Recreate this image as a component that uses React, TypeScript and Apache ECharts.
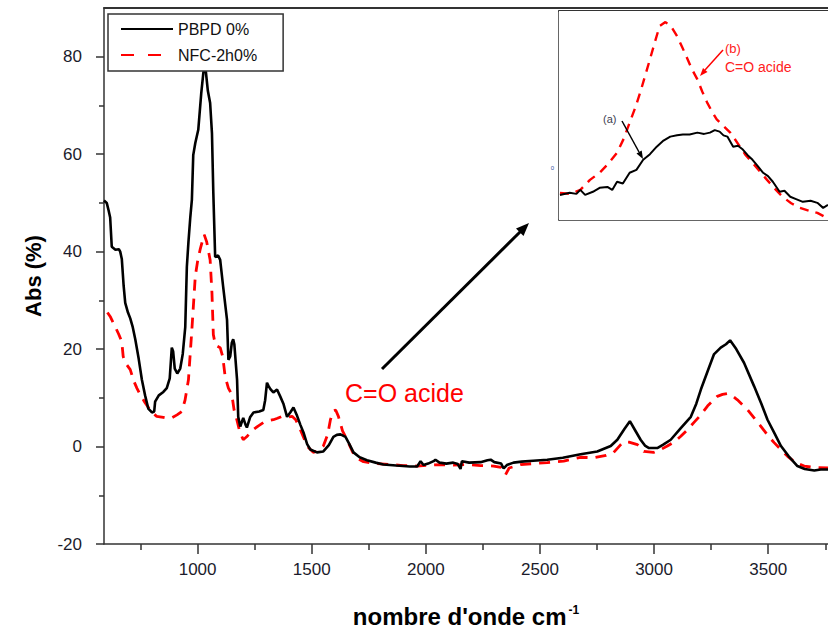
import React, { useEffect, useRef } from "react";
import * as echarts from "echarts";

// ---------- data ----------
const pbpdWavenumber = [590, 602, 610, 617, 624, 640, 655, 661, 668, 676, 683, 695, 705, 716, 727, 742, 756, 770, 784, 800, 810, 814, 830, 850, 865, 878, 887, 893, 900, 911, 924, 935, 946, 953, 960, 968, 975, 981, 990, 1003, 1016, 1025, 1030, 1035, 1045, 1055, 1063, 1069, 1077, 1090, 1099, 1112, 1129, 1135, 1143, 1150, 1156, 1161, 1173, 1178, 1187, 1200, 1210, 1216, 1230, 1245, 1270, 1288, 1296, 1304, 1310, 1319, 1332, 1348, 1362, 1376, 1392, 1406, 1420, 1436, 1450, 1464, 1480, 1494, 1523, 1551, 1575, 1595, 1610, 1626, 1648, 1665, 1683, 1710, 1742, 1780, 1814, 1870, 1930, 1962, 1977, 1990, 2010, 2034, 2042, 2060, 2090, 2120, 2140, 2152, 2158, 2190, 2240, 2270, 2284, 2300, 2330, 2341, 2355, 2384, 2420, 2470, 2532, 2600, 2678, 2751, 2810, 2839, 2870, 2894, 2915, 2941, 2960, 2978, 3014, 3040, 3073, 3117, 3161, 3185, 3205, 3235, 3262, 3292, 3315, 3333, 3360, 3394, 3438, 3470, 3497, 3530, 3556, 3590, 3628, 3660, 3702, 3730, 3762];
const pbpdAbs = [50.5, 50.0, 48.5, 47.0, 41.0, 40.4, 40.5, 40.0, 38.5, 33.0, 29.5, 27.5, 26.3, 24.5, 22.0, 18.0, 13.7, 10.5, 7.8, 7.0, 7.2, 9.2, 10.5, 11.2, 12.0, 14.0, 20.3, 19.5, 16.0, 15.0, 16.0, 19.0, 24.5, 36.9, 42.0, 47.0, 50.6, 59.8, 62.3, 65.0, 72.5, 76.6, 78.0, 77.5, 73.0, 70.5, 64.3, 52.0, 38.9, 39.2, 38.3, 32.8, 26.0, 17.8, 18.5, 21.3, 22.0, 21.0, 13.7, 6.1, 4.1, 5.9, 4.5, 3.9, 6.0, 7.0, 7.2, 7.5, 9.5, 13.1, 12.5, 11.8, 11.1, 11.7, 10.3, 8.8, 6.1, 7.0, 8.0, 6.3, 4.5, 2.9, 0.5, -0.6, -1.2, -1.0, 0.3, 2.0, 2.4, 2.5, 2.0, 0.5, -1.2, -2.2, -2.8, -3.3, -3.7, -3.9, -4.1, -4.1, -3.0, -3.8, -3.5, -3.0, -2.7, -3.3, -3.5, -3.3, -3.6, -4.6, -3.0, -3.3, -3.2, -2.8, -2.7, -3.2, -3.5, -4.5, -3.8, -3.3, -3.1, -2.9, -2.7, -2.3, -1.6, -1.0, 0.1, 1.4, 3.6, 5.2, 3.5, 1.4, 0.2, -0.3, -0.3, 0.4, 1.4, 3.8, 6.1, 8.8, 11.7, 15.5, 18.9, 20.3, 21.0, 21.8, 20.0, 17.2, 12.4, 8.8, 5.5, 2.5, 0.1, -2.0, -4.0, -4.6, -4.9, -4.7, -4.7];

const nfcWavenumber = [605, 617, 639, 655, 668, 674, 683, 705, 720, 734, 750, 770, 792, 800, 821, 850, 870, 887, 910, 931, 945, 960, 975, 990, 1000, 1011, 1020, 1029, 1040, 1055, 1063, 1069, 1078, 1099, 1110, 1121, 1135, 1150, 1160, 1172, 1185, 1200, 1215, 1230, 1245, 1265, 1288, 1310, 1332, 1350, 1370, 1390, 1414, 1430, 1450, 1465, 1480, 1507, 1530, 1551, 1570, 1582, 1595, 1605, 1617, 1635, 1655, 1680, 1700, 1727, 1780, 1845, 1900, 1962, 2010, 2064, 2120, 2181, 2240, 2297, 2330, 2349, 2365, 2415, 2470, 2532, 2604, 2678, 2736, 2790, 2823, 2854, 2867, 2890, 2927, 2955, 2998, 3030, 3058, 3090, 3117, 3145, 3174, 3205, 3234, 3277, 3300, 3321, 3340, 3365, 3409, 3440, 3467, 3500, 3526, 3555, 3585, 3620, 3658, 3700, 3762];
const nfcAbs = [27.5, 26.7, 24.6, 23.0, 21.5, 18.5, 17.2, 15.8, 13.5, 12.0, 10.5, 9.0, 7.5, 7.0, 6.2, 6.0, 5.8, 5.9, 6.5, 7.2, 9.5, 13.7, 24.0, 35.0, 38.0, 40.4, 42.0, 43.5, 42.0, 38.3, 31.5, 23.0, 20.8, 20.3, 18.5, 14.3, 12.0, 10.7, 7.5, 5.5, 3.0, 1.4, 2.0, 2.8, 3.5, 4.2, 4.9, 5.3, 5.5, 5.8, 6.2, 6.0, 6.2, 5.5, 3.5, 1.8, 0.1, -1.2, -0.8, 0.1, 2.5, 5.5, 7.3, 7.5, 6.2, 3.2, 1.4, -1.2, -2.4, -3.1, -3.5, -3.7, -3.9, -4.0, -3.8, -3.7, -3.8, -3.7, -3.9, -4.0, -4.3, -5.8, -4.4, -3.7, -3.5, -3.3, -3.0, -2.2, -2.3, -1.8, -1.2, 0.4, 1.0, 0.9, 0.4, -1.0, -1.2, -0.6, 0.1, 1.0, 2.1, 3.4, 4.9, 6.5, 8.3, 10.3, 10.7, 10.9, 10.5, 9.6, 7.6, 5.8, 4.2, 2.2, 0.8, -0.6, -2.0, -3.3, -4.0, -4.3, -4.4];

// inset (zoom on the C=O acid band)
const insetWavenumberA = [1501, 1511, 1518, 1522, 1527, 1535, 1542, 1550, 1555, 1560, 1566, 1573, 1580, 1587, 1594, 1601, 1608, 1615, 1622, 1628, 1635, 1643, 1650, 1656, 1661, 1666, 1670, 1674, 1680, 1685, 1690, 1695, 1700, 1705, 1711, 1716, 1721, 1728, 1733, 1739, 1745, 1752, 1760, 1767, 1773, 1778];
const insetAbsA = [12.0, 13.0, 12.5, 14.4, 12.0, 13.5, 15.4, 15.8, 14.4, 18.3, 17.5, 22.6, 24.0, 28.8, 31.5, 35.1, 38.0, 39.9, 40.5, 40.9, 40.9, 41.8, 41.2, 41.8, 43.0, 42.3, 40.5, 39.9, 35.1, 35.5, 33.7, 31.0, 28.8, 26.0, 22.6, 21.0, 18.3, 13.5, 14.0, 11.1, 10.0, 8.7, 9.2, 8.2, 5.8, 7.2];
const insetWavenumberB = [1501, 1512, 1522, 1532, 1542, 1551, 1560, 1567, 1573, 1579, 1584, 1589, 1594, 1599, 1604, 1610, 1616, 1622, 1627, 1632, 1637, 1643, 1648, 1653, 1658, 1663, 1670, 1677, 1682, 1687, 1693, 1700, 1708, 1715, 1723, 1731, 1740, 1749, 1758, 1767, 1777];
const insetAbsB = [13.0, 12.5, 14.4, 19.2, 22.6, 27.0, 32.2, 39.0, 46.6, 54.0, 61.1, 69.0, 76.9, 85.0, 92.8, 94.7, 92.5, 88.0, 83.0, 77.9, 72.5, 67.3, 61.5, 56.3, 52.0, 48.1, 45.0, 41.8, 38.5, 35.1, 31.0, 27.4, 23.0, 19.2, 15.0, 11.1, 8.0, 5.8, 4.5, 3.4, 1.0];

const xMajorTicks = [1000, 1500, 2000, 2500, 3000, 3500];
const xMinorTicks = [750, 1250, 1750, 2250, 2750, 3250, 3750];
const yMajorTicks = [-20, 0, 20, 40, 60, 80];
const yMinorTicks = [-10, 10, 30, 50, 70];
const insetTopTicks = [1510, 1560, 1635, 1711];
const insetBottomTicks = [1646];
const insetLeftTicks = [25, 86];

const seriesNames = ["PBPD 0%", "NFC-2h0%"];

const zip = (xs: number[], ys: number[]) => xs.map((x, i) => [x, ys[i]]);

const FONT = "'Liberation Sans', Arial, Helvetica, sans-serif";
const AXIS_COLOR = "#333";

export default function App() {
  const ref = useRef<HTMLDivElement>(null);

  useEffect(() => {
    if (!ref.current) return;
    const chart = echarts.init(ref.current, null, { renderer: "svg" });

    const axisLine = { show: true, onZero: false, lineStyle: { color: AXIS_COLOR, width: 1.5 } };

    const option: any = {
      animation: false,
      backgroundColor: "#fff",
      textStyle: { fontFamily: FONT },
      grid: [
        { left: 104, top: 8, right: 0, bottom: 89, containLabel: false },
        { left: 559, top: 11, right: 0, height: 209, show: true, backgroundColor: "#fff", borderWidth: 0, z: 5 },
      ],
      legend: {
        data: [
          { name: seriesNames[0] },
          { name: seriesNames[1], lineStyle: { type: [13, 14] } },
        ],
        orient: "vertical",
        left: 108,
        top: 14,
        itemWidth: 52,
        itemHeight: 14,
        itemGap: 10,
        padding: [7, 26, 8, 12],
        borderColor: AXIS_COLOR,
        borderWidth: 1.5,
        backgroundColor: "#fff",
        itemStyle: { opacity: 0, color: "transparent", borderWidth: 0 },
        textStyle: { fontSize: 16, color: "#111", fontFamily: FONT },
        z: 10,
      },
      xAxis: [
        {
          type: "value", gridIndex: 0, position: "bottom", min: 590, max: 3762,
          axisLine,
          splitLine: { show: false },
          axisTick: { show: true, customValues: xMajorTicks, length: 10, lineStyle: { color: AXIS_COLOR, width: 1.5 } },
          axisLabel: { customValues: xMajorTicks, formatter: (v: number) => String(v), fontSize: 17, color: "#1b1b2b", margin: 17, fontFamily: FONT },
          name: "nombre d'onde cm{sup|-1}",
          nameLocation: "middle",
          nameGap: 60,
          nameTextStyle: {
            fontSize: 24, fontWeight: "bold", color: "#000", fontFamily: FONT,
            rich: { sup: { fontSize: 12, fontWeight: "bold", color: "#000", verticalAlign: "top", padding: [0, 0, 0, 2] } },
          },
        },
        {
          type: "value", gridIndex: 0, position: "bottom", min: 590, max: 3762,
          axisLine: { show: false, onZero: false },
          splitLine: { show: false },
          axisTick: { show: true, customValues: xMinorTicks, length: 6, lineStyle: { color: AXIS_COLOR, width: 1.5 } },
          axisLabel: { show: false },
        },
        {
          type: "value", gridIndex: 0, position: "top", min: 590, max: 3762,
          axisLine: { show: true, onZero: false, lineStyle: { color: AXIS_COLOR, width: 2 } },
          splitLine: { show: false },
          axisTick: { show: false },
          axisLabel: { show: false },
        },
        {
          type: "value", gridIndex: 1, position: "bottom", min: 1500, max: 1778,
          axisLine: { show: true, onZero: false, lineStyle: { color: AXIS_COLOR, width: 1.5 } },
          splitLine: { show: false },
          axisTick: { show: true, inside: true, customValues: insetBottomTicks, length: 4, lineStyle: { color: AXIS_COLOR } },
          axisLabel: { show: false },
        },
        {
          type: "value", gridIndex: 1, position: "top", min: 1500, max: 1778,
          axisLine: { show: true, onZero: false, lineStyle: { color: AXIS_COLOR, width: 2 } },
          splitLine: { show: false },
          axisTick: { show: true, inside: true, customValues: insetTopTicks, length: 4, lineStyle: { color: AXIS_COLOR } },
          axisLabel: { show: false },
        },
      ],
      yAxis: [
        {
          type: "value", gridIndex: 0, position: "left", min: -20, max: 90,
          axisLine,
          splitLine: { show: false },
          axisTick: { show: true, customValues: yMajorTicks, length: 8, lineStyle: { color: AXIS_COLOR, width: 1.5 } },
          axisLabel: { customValues: yMajorTicks, fontSize: 17, color: "#1b1b2b", margin: 22, fontFamily: FONT },
          name: "Abs (%)",
          nameLocation: "middle",
          nameGap: 60,
          nameTextStyle: { fontSize: 22, fontWeight: "bold", color: "#000", fontFamily: FONT },
        },
        {
          type: "value", gridIndex: 0, position: "left", min: -20, max: 90,
          axisLine: { show: false, onZero: false },
          splitLine: { show: false },
          axisTick: { show: true, customValues: yMinorTicks, length: 5, lineStyle: { color: AXIS_COLOR, width: 1.5 } },
          axisLabel: { show: false },
        },
        {
          type: "value", gridIndex: 1, position: "left", min: 0, max: 100,
          axisLine: { show: true, onZero: false, lineStyle: { color: AXIS_COLOR, width: 1.5 } },
          splitLine: { show: false },
          axisTick: { show: true, inside: true, customValues: insetLeftTicks, length: 4, lineStyle: { color: AXIS_COLOR } },
          axisLabel: { customValues: [insetLeftTicks[0]], formatter: () => "0", fontSize: 6, color: "#3050a0", margin: 5 },
        },
      ],
      series: [
        {
          name: seriesNames[1], type: "line", xAxisIndex: 0, yAxisIndex: 0,
          data: zip(nfcWavenumber, nfcAbs), symbol: "none", z: 2, silent: true,
          lineStyle: { color: "#ff0000", width: 2.8, type: [11, 8] },
          itemStyle: { color: "#ff0000" },
        },
        {
          name: seriesNames[0], type: "line", xAxisIndex: 0, yAxisIndex: 0,
          data: zip(pbpdWavenumber, pbpdAbs), symbol: "none", z: 3, silent: true,
          lineStyle: { color: "#000", width: 2.6 },
          itemStyle: { color: "#000" },
        },
        {
          name: "inset (b)", type: "line", xAxisIndex: 3, yAxisIndex: 2,
          data: zip(insetWavenumberB, insetAbsB), symbol: "none", z: 6, silent: true,
          lineStyle: { color: "#ff0000", width: 2.4, type: [9, 7] },
        },
        {
          name: "inset (a)", type: "line", xAxisIndex: 3, yAxisIndex: 2,
          data: zip(insetWavenumberA, insetAbsA), symbol: "none", z: 7, silent: true,
          lineStyle: { color: "#000", width: 2 },
        },
      ],
      graphic: [
        // main annotation
        {
          type: "text", z: 20,
          style: { text: "C=O acide", x: 345, y: 393, fill: "#ff0000", font: `25px ${FONT}`, align: "left", verticalAlign: "middle", textAlign: "left", textVerticalAlign: "middle" },
        },
        { type: "line", z: 20, shape: { x1: 382, y1: 369, x2: 521, y2: 231 }, style: { stroke: "#000", lineWidth: 3 } },
        { type: "polygon", z: 20, shape: { points: [[529, 223], [523.5, 236], [516, 228.5]] }, style: { fill: "#000" } },
        // inset annotations
        {
          type: "text", z: 20,
          style: { text: "(a)", x: 603, y: 119, fill: "#404050", font: `11px ${FONT}`, align: "left", verticalAlign: "middle", textAlign: "left", textVerticalAlign: "middle" },
        },
        { type: "line", z: 20, shape: { x1: 622, y1: 121, x2: 639, y2: 152 }, style: { stroke: "#000", lineWidth: 1.5 } },
        { type: "polygon", z: 20, shape: { points: [[643, 159], [641.7, 150.5], [636.5, 153.5]] }, style: { fill: "#000" } },
        {
          type: "text", z: 20,
          style: { text: "(b)", x: 725, y: 48, fill: "#ff2020", font: `13px ${FONT}`, align: "left", verticalAlign: "middle", textAlign: "left", textVerticalAlign: "middle" },
        },
        {
          type: "text", z: 20,
          style: { text: "C=O acide", x: 725, y: 67, fill: "#ff2020", font: `14px ${FONT}`, align: "left", verticalAlign: "middle", textAlign: "left", textVerticalAlign: "middle" },
        },
        { type: "line", z: 20, shape: { x1: 723, y1: 50, x2: 705, y2: 70 }, style: { stroke: "#ff0000", lineWidth: 1.5 } },
        { type: "polygon", z: 20, shape: { points: [[700, 76], [707.5, 72], [703, 68]] }, style: { fill: "#ff0000" } },
      ],
    };

    chart.setOption(option);
    return () => chart.dispose();
  }, []);

  return (
    <div
      ref={ref}
      style={{ position: "fixed", left: 0, top: 0, width: 828, height: 633, background: "#fff" }}
    />
  );
}
